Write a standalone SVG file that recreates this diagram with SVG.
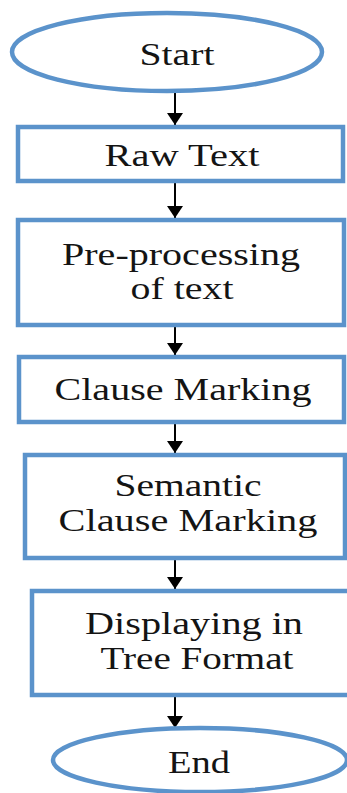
<svg xmlns="http://www.w3.org/2000/svg" width="347" height="793" viewBox="0 0 347 793">
<defs>
<style>
.box{fill:#ffffff;stroke:#5b93cb;stroke-width:4.5}
.t{font-family:"Liberation Serif","Times New Roman",serif;font-size:31px;fill:#141414;text-anchor:middle}
.c{stroke:#000;stroke-width:2;fill:none}
</style>
<marker id="ah" viewBox="0 0 12 16" refX="12" refY="8" markerWidth="12" markerHeight="16" markerUnits="userSpaceOnUse" orient="auto">
<path d="M0,0 L12,8 L0,16 Z" fill="#000"/>
</marker>
</defs>
<rect width="347" height="793" fill="#ffffff"/>
<g id="connectors">
<line class="c" x1="175" y1="93" x2="175" y2="125" marker-end="url(#ah)"/>
<line class="c" x1="175" y1="182" x2="175" y2="218" marker-end="url(#ah)"/>
<line class="c" x1="175" y1="327" x2="175" y2="355" marker-end="url(#ah)"/>
<line class="c" x1="175" y1="424" x2="175" y2="453" marker-end="url(#ah)"/>
<line class="c" x1="175" y1="560" x2="175" y2="589" marker-end="url(#ah)"/>
<line class="c" x1="175" y1="697" x2="175" y2="728" marker-end="url(#ah)"/>
</g>
<g id="start">
<ellipse class="box" cx="167" cy="52" rx="155" ry="39"/>
<text class="t" x="177" y="65" textLength="75" lengthAdjust="spacingAndGlyphs">Start</text>
</g>
<g id="raw-text">
<rect class="box" x="18" y="127" width="325" height="54"/>
<text class="t" x="182" y="166" textLength="155" lengthAdjust="spacingAndGlyphs">Raw Text</text>
</g>
<g id="preprocessing">
<rect class="box" x="18" y="220" width="326" height="105"/>
<text class="t" x="181" y="265" textLength="238" lengthAdjust="spacingAndGlyphs">Pre-processing</text>
<text class="t" x="182" y="299" textLength="103" lengthAdjust="spacingAndGlyphs">of text</text>
</g>
<g id="clause-marking">
<rect class="box" x="19" y="357" width="325" height="65"/>
<text class="t" x="183" y="400" textLength="257" lengthAdjust="spacingAndGlyphs">Clause Marking</text>
</g>
<g id="semantic">
<rect class="box" x="25" y="455" width="320" height="103"/>
<text class="t" x="188" y="496" textLength="147" lengthAdjust="spacingAndGlyphs">Semantic</text>
<text class="t" x="188" y="531" textLength="259" lengthAdjust="spacingAndGlyphs">Clause Marking</text>
</g>
<g id="displaying">
<rect class="box" x="32" y="591" width="330" height="104"/>
<text class="t" x="194" y="634" textLength="218" lengthAdjust="spacingAndGlyphs">Displaying in</text>
<text class="t" x="197" y="669" textLength="193" lengthAdjust="spacingAndGlyphs">Tree Format</text>
</g>
<g id="end">
<ellipse class="box" cx="200" cy="760" rx="147" ry="32"/>
<text class="t" x="199" y="773" textLength="62" lengthAdjust="spacingAndGlyphs">End</text>
</g>
</svg>
